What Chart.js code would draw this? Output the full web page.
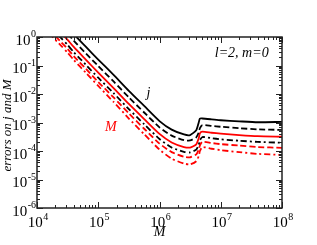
<!DOCTYPE html>
<html>
<head>
<meta charset="utf-8">
<script src="https://cdn.jsdelivr.net/npm/chart.js@4"></script>
<style>
  html, body { margin: 0; padding: 0; background: #fff; }
  #wrap { width: 317px; height: 245px; }
</style>
</head>
<body>
<div id="wrap"><canvas id="chart"></canvas></div>
<script>
// black hole mass M (solar masses)
const masses = [1.58e4, 2.51e4, 3.16e4, 3.98e4, 6.31e4, 1e5, 1.78e5, 3.16e5, 5.62e5, 1e6, 1.58e6, 2.51e6,
  3.16e6, 3.98e6, 4.37e6, 4.57e6, 5.01e6, 7.08e6, 1e7, 2e7, 4e7, 1e8];

// errors on j (black)
const jSolid = [10.7, 3.80, 2.24, 1.26, 4.47e-1, 1.62e-1, 4.68e-2, 1.29e-2, 3.80e-3, 1.12e-3, 5.62e-4, 3.80e-4,
  3.63e-4, 5.37e-4, 1.0e-3, 1.38e-3, 1.38e-3, 1.29e-3, 1.20e-3, 1.10e-3, 1.02e-3, 1.05e-3];
const jDashed = [6.31, 2.24, 1.32, 7.41e-1, 2.63e-1, 9.55e-2, 2.75e-2, 7.59e-3, 2.24e-3, 6.76e-4, 3.47e-4, 2.40e-4,
  2.34e-4, 3.02e-4, 4.47e-4, 6.31e-4, 8.13e-4, 7.59e-4, 7.08e-4, 6.31e-4, 5.75e-4, 5.50e-4];
const jDashDot = [2.51, 8.91e-1, 5.25e-1, 2.95e-1, 1.05e-1, 3.72e-2, 1.07e-2, 2.95e-3, 8.71e-4, 2.63e-4, 1.32e-4, 9.33e-5,
  8.91e-5, 1.12e-4, 1.66e-4, 2.40e-4, 3.09e-4, 2.82e-4, 2.57e-4, 2.29e-4, 2.09e-4, 1.95e-4];

// errors on M (red)
const mSolid = [3.80, 1.35, 7.94e-1, 4.47e-1, 1.58e-1, 5.62e-2, 1.62e-2, 4.47e-3, 1.32e-3, 3.98e-4, 2.0e-4, 1.38e-4,
  1.32e-4, 1.70e-4, 2.82e-4, 4.17e-4, 4.79e-4, 4.37e-4, 4.07e-4, 3.63e-4, 3.31e-4, 3.16e-4];
const mDashed = [1.82, 6.46e-1, 3.80e-1, 2.14e-1, 7.59e-2, 2.63e-2, 7.59e-3, 2.09e-3, 6.03e-4, 1.82e-4, 9.12e-5, 6.31e-5,
  6.03e-5, 7.59e-5, 1.12e-4, 1.58e-4, 2.09e-4, 1.91e-4, 1.74e-4, 1.55e-4, 1.38e-4, 1.29e-4];
const mDashDot = [1.35, 4.79e-1, 2.82e-1, 1.58e-1, 5.50e-2, 1.91e-2, 5.25e-3, 1.38e-3, 3.89e-4, 1.12e-4, 5.37e-5, 3.63e-5,
  3.39e-5, 4.37e-5, 6.61e-5, 1.0e-4, 1.38e-4, 1.20e-4, 1.07e-4, 9.12e-5, 7.94e-5, 7.24e-5];

const xExponents = [4, 5, 6, 7, 8];
const yExponents = [-6, -5, -4, -3, -2, -1, 0];

const SERIF = '"Liberation Serif", "Times New Roman", serif';

function series(values, color, dash) {
  return {
    data: masses.map((m, i) => ({ x: m, y: values[i] })),
    borderColor: color,
    borderWidth: 1.8,
    borderDash: dash,
    pointRadius: 0,
    fill: false,
    tension: 0.2,
  };
}

function supLabel(ctx, exp, x, y, align) {
  const base = '10';
  ctx.font = '15px ' + SERIF;
  const wb = ctx.measureText(base).width;
  ctx.font = '10px ' + SERIF;
  const we = ctx.measureText(String(exp)).width;
  const total = wb + we + 0.5;
  const left = align === 'center' ? x - total / 2 : x - total;
  ctx.textAlign = 'left';
  ctx.textBaseline = 'alphabetic';
  ctx.font = '15px ' + SERIF;
  ctx.fillText(base, left, y);
  ctx.font = '10px ' + SERIF;
  ctx.fillText(String(exp), left + wb + 0.5, y - 7.5);
}

const framePlugin = {
  id: 'frame',
  afterDraw(chart) {
    const { ctx, chartArea: a, scales: { x, y } } = chart;
    ctx.save();
    ctx.strokeStyle = '#222';
    ctx.lineWidth = 1;
    ctx.beginPath();
    // x ticks, top and bottom, inward
    xExponents.forEach(k => {
      for (let m = 1; m <= 9; m++) {
        if (k === 8 && m > 1) break;
        const px = Math.round(x.getPixelForValue(m * Math.pow(10, k))) + 0.5;
        const len = m === 1 ? 6 : 3;
        ctx.moveTo(px, a.bottom); ctx.lineTo(px, a.bottom - len);
        ctx.moveTo(px, a.top); ctx.lineTo(px, a.top + len);
      }
    });
    // y ticks, left and right, inward
    yExponents.forEach(k => {
      for (let m = 1; m <= 9; m++) {
        if (k === 0 && m > 1) break;
        const py = Math.round(y.getPixelForValue(m * Math.pow(10, k))) + 0.5;
        const len = m === 1 ? 6 : 3;
        ctx.moveTo(a.left, py); ctx.lineTo(a.left + len, py);
        ctx.moveTo(a.right, py); ctx.lineTo(a.right - len, py);
      }
    });
    ctx.stroke();
    ctx.lineWidth = 1.5;
    ctx.strokeRect(a.left, a.top, a.right - a.left, a.bottom - a.top);

    // tick labels
    ctx.fillStyle = '#000';
    xExponents.forEach(k => {
      supLabel(ctx, k, x.getPixelForValue(Math.pow(10, k)) + 1, a.bottom + 19, 'center');
    });
    yExponents.forEach(k => {
      supLabel(ctx, k, a.left - 1, y.getPixelForValue(Math.pow(10, k)) + 7.5, 'right');
    });

    // axis titles
    ctx.font = 'italic 14px ' + SERIF;
    ctx.textAlign = 'center';
    ctx.textBaseline = 'middle';
    ctx.fillText('M', (a.left + a.right) / 2, a.bottom + 24);
    ctx.save();
    ctx.translate(8, (a.top + a.bottom) / 2 + 3);
    ctx.rotate(-Math.PI / 2);
    ctx.font = 'italic 13px ' + SERIF;
    ctx.fillText('errors on j and M', 0, 0);
    ctx.restore();

    // annotations
    ctx.font = 'italic 14px ' + SERIF;
    ctx.fillText('l=2, m=0', x.getPixelForValue(2.2e7), y.getPixelForValue(2.75e-1));
    ctx.fillText('j', x.getPixelForValue(6.6e5), y.getPixelForValue(1.1e-2));
    ctx.fillStyle = '#ff0000';
    ctx.fillText('M', x.getPixelForValue(1.6e5), y.getPixelForValue(6.9e-4));
    ctx.restore();
  }
};

new Chart(document.getElementById('chart'), {
  type: 'line',
  data: {
    datasets: [
      series(jSolid, '#000000', []),
      series(jDashed, '#000000', [6, 3]),
      series(jDashDot, '#000000', [6, 3, 2, 3]),
      series(mSolid, '#ff0000', []),
      series(mDashed, '#ff0000', [6, 3]),
      series(mDashDot, '#ff0000', [6, 3, 2, 3]),
    ]
  },
  options: {
    responsive: true,
    maintainAspectRatio: false,
    animation: false,
    layout: { padding: { left: 37, right: 35, top: 37, bottom: 37 } },
    plugins: { legend: { display: false }, tooltip: { enabled: false } },
    scales: {
      x: { type: 'logarithmic', min: 1e4, max: 1e8, display: false },
      y: { type: 'logarithmic', min: 1e-6, max: 1, display: false },
    },
  },
  plugins: [framePlugin],
});
</script>
</body>
</html>
